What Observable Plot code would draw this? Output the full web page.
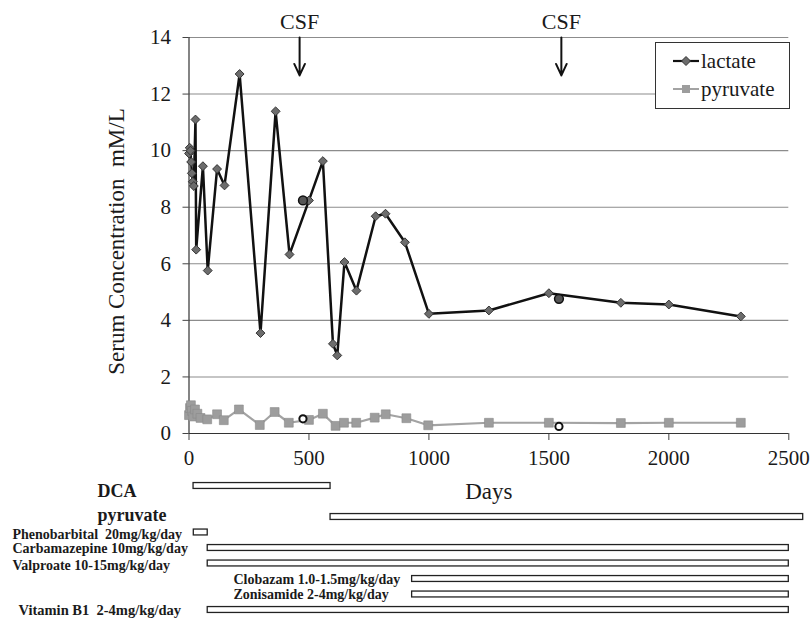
<!DOCTYPE html>
<html>
<head>
<meta charset="utf-8">
<script src="https://cdn.jsdelivr.net/npm/d3@7"></script>
<script src="https://cdn.jsdelivr.net/npm/@observablehq/plot@0.6"></script>
<style>
  html, body { margin: 0; padding: 0; background: #fff; }
  #wrap { position: relative; width: 810px; height: 618px; overflow: hidden; background: #fff; }
  #wrap svg { position: absolute; left: 0; top: 0; }
  #legend { position: absolute; left: 655px; top: 42px; width: 133px; height: 65px;
            border: 1px solid #333; background: #fff; font-family: "Liberation Serif", serif;
            font-size: 21px; color: #1a1a1a; }
  #legend .row { position: absolute; left: 16px; height: 24px; display: flex; align-items: center; }
  #legend .row svg { position: static; }
</style>
</head>
<body>
<div id="wrap"></div>
<script>
// ---------------- data ----------------
const lactateDay = [0, 3, 6, 9, 12, 16, 20, 27, 30, 58, 78, 117, 148, 211, 298, 361, 419, 500, 558, 600, 618, 648, 698, 778, 819, 900, 1000, 1250, 1500, 1800, 2000, 2300];
const lactateVal = [9.9, 10.1, 10.0, 9.6, 9.2, 8.9, 8.75, 11.1, 6.5, 9.45, 5.76, 9.35, 8.77, 12.71, 3.55, 11.39, 6.33, 8.24, 9.63, 3.17, 2.76, 6.06, 5.05, 7.68, 7.77, 6.76, 4.23, 4.35, 4.96, 4.62, 4.56, 4.14];

const pyruvateDay = [0, 4, 8, 12, 18, 25, 35, 48, 76, 117, 145, 208, 295, 357, 416, 500, 558, 611, 646, 697, 774, 820, 906, 997, 1250, 1500, 1800, 2000, 2300];
const pyruvateVal = [0.65, 0.9, 1.0, 0.8, 0.6, 0.85, 0.7, 0.55, 0.50, 0.68, 0.47, 0.85, 0.30, 0.76, 0.38, 0.48, 0.70, 0.27, 0.38, 0.38, 0.56, 0.68, 0.54, 0.29, 0.38, 0.38, 0.37, 0.38, 0.38];

const csfDay = [475, 1542];
const csfLactate = [8.24, 4.76];
const csfPyruvate = [0.52, 0.25];
const csfArrowDay = [461, 1552];
const csfLabel = "CSF";

const yTicks = [0, 2, 4, 6, 8, 10, 12, 14];
const xTicks = [0, 500, 1000, 1500, 2000, 2500];
const yLabel = "Serum Concentration  mM/L";
const xLabel = "Days";
const seriesNames = ["lactate", "pyruvate"];

const treatments = ["DCA", "pyruvate", "Phenobarbital  20mg/kg/day", "Carbamazepine 10mg/kg/day", "Valproate 10-15mg/kg/day", "Clobazam 1.0-1.5mg/kg/day", "Zonisamide 2-4mg/kg/day", "Vitamin B1  2-4mg/kg/day"];
const treatStart = [19, 590, 20, 78, 78, 930, 930, 78];
const treatEnd   = [590, 2560, 78, 2500, 2500, 2500, 2500, 2500];

// ---------------- layout / style (not data) ----------------
const serif = "'Liberation Serif', 'DejaVu Serif', serif";
const M = {left: 188.5, right: 21.7, top: 37, bottom: 185};
const rowLayout = {
  "DCA":                         {slot: 0, indent: 97,  dy: 5,  size: 18},
  "pyruvate":                    {slot: 2, indent: 97,  dy: -2, size: 18},
  "Phenobarbital  20mg/kg/day":  {slot: 3, indent: 12,  dy: 2,  size: 14},
  "Carbamazepine 10mg/kg/day":   {slot: 4, indent: 12,  dy: 1,  size: 14},
  "Valproate 10-15mg/kg/day":    {slot: 5, indent: 12,  dy: 2,  size: 14},
  "Clobazam 1.0-1.5mg/kg/day":   {slot: 6, indent: 233, dy: 1,  size: 14},
  "Zonisamide 2-4mg/kg/day":     {slot: 7, indent: 233, dy: 0,  size: 14},
  "Vitamin B1  2-4mg/kg/day":    {slot: 8, indent: 18,  dy: 0,  size: 14.5}
};
const slotRange = [485.5, 609.5];
const barHalf = 0.19;

// ---------------- tables built from the arrays ----------------
const lactate = lactateDay.map((d, i) => ({day: d, value: lactateVal[i]}));
const pyruvate = pyruvateDay.map((d, i) => ({day: d, value: pyruvateVal[i]}));
const csfL = csfDay.map((d, i) => ({day: d, value: csfLactate[i]}));
const csfP = csfDay.map((d, i) => ({day: d, value: csfPyruvate[i]}));
const treat = treatments.map((n, i) => ({name: n, start: treatStart[i], end: treatEnd[i], slot: rowLayout[n].slot}));

const wrap = document.getElementById("wrap");

// ---------------- main chart ----------------
const main = Plot.plot({
  width: 810, height: 618,
  marginLeft: M.left, marginRight: M.right, marginTop: M.top, marginBottom: M.bottom,
  style: {fontFamily: serif, fontSize: "21px", color: "#1a1a1a", background: "transparent", overflow: "visible"},
  x: {domain: [0, 2500]},
  y: {domain: [0, 14]},
  marks: [
    Plot.ruleY(yTicks.filter(d => d > 0), {stroke: "#8c8c8c", strokeWidth: 1.1}),
    Plot.axisY({ticks: yTicks, tickFormat: "d", tickSize: 6, tickPadding: 12, label: null, stroke: "#444", fontSize: 21}),
    Plot.axisX({ticks: xTicks, tickFormat: "d", tickSize: 7, tickPadding: 10, label: null, stroke: "#444", fontSize: 21}),
    Plot.ruleX([0], {stroke: "#333", strokeWidth: 1.2}),
    Plot.ruleY([0], {stroke: "#333", strokeWidth: 1.2}),
    // pyruvate
    Plot.line(pyruvate, {x: "day", y: "value", stroke: "#a3a3a3", strokeWidth: 2.2}),
    Plot.dot(pyruvate, {x: "day", y: "value", symbol: "square", r: 5, fill: "#9d9d9d", stroke: "#8a8a8a", strokeWidth: 0.6}),
    // lactate
    Plot.line(lactate, {x: "day", y: "value", stroke: "#111", strokeWidth: 2.5}),
    Plot.dot(lactate, {x: "day", y: "value", symbol: "diamond2", r: 4, fill: "#6c6c6c", stroke: "#333", strokeWidth: 1}),
    // CSF measurements
    Plot.dot(csfL, {x: "day", y: "value", r: 4.4, fill: "#555", stroke: "#111", strokeWidth: 1.5}),
    Plot.dot(csfP, {x: "day", y: "value", r: 3.6, fill: "white", stroke: "#111", strokeWidth: 2}),
    // CSF arrows
    Plot.arrow(csfArrowDay, {x1: d => d, x2: d => d, y1: 14, y2: 12.66, stroke: "#111", strokeWidth: 2, headLength: 10, headAngle: 50}),
    Plot.text(csfArrowDay, {x: d => d, y: 14, text: () => csfLabel, dy: -16, fontSize: 22, fill: "#1a1a1a"}),
    // axis titles
    Plot.text([yLabel], {text: d => d, frameAnchor: "left", textAnchor: "middle", lineAnchor: "middle", rotate: -90, dx: -72, dy: 6, fontSize: 23, fill: "#1a1a1a"}),
    Plot.text([xLabel], {text: d => d, frameAnchor: "bottom", textAnchor: "middle", lineAnchor: "middle", dy: 58, fontSize: 23, fill: "#1a1a1a"})
  ]
});
wrap.appendChild(main);

// ---------------- treatment bars ----------------
const labelMarks = treatments.map(n => {
  const s = rowLayout[n];
  return Plot.text(treat.filter(t => t.name === n), {
    y: "slot", text: "name", frameAnchor: "left", textAnchor: "start", lineAnchor: "middle",
    dx: s.indent - M.left, dy: s.dy, fontSize: s.size, fontWeight: "bold", fill: "#1a1a1a"
  });
});
const bars = Plot.plot({
  width: 810, height: 618,
  marginLeft: M.left, marginRight: M.right, marginTop: 0, marginBottom: 0,
  style: {fontFamily: serif, background: "transparent", overflow: "visible"},
  x: {domain: [0, 2500], axis: null},
  y: {type: "linear", domain: [0, 8], range: slotRange, axis: null},
  marks: [
    Plot.rect(treat, {x1: "start", x2: "end", y1: d => d.slot - barHalf, y2: d => d.slot + barHalf, fill: "white", stroke: "#222", strokeWidth: 1.3}),
    ...labelMarks
  ]
});
wrap.appendChild(bars);

// ---------------- legend ----------------
const legend = document.createElement("div");
legend.id = "legend";
const swatch = (name) => {
  if (name === "lactate") {
    return `<svg width="28" height="14"><line x1="1" y1="7" x2="27" y2="7" stroke="#111" stroke-width="2.2"/><path d="M14 2.5 L18.5 7 L14 11.5 L9.5 7 Z" fill="#6c6c6c" stroke="#333" stroke-width="1"/></svg>`;
  }
  return `<svg width="28" height="14"><line x1="1" y1="7" x2="27" y2="7" stroke="#a3a3a3" stroke-width="2"/><rect x="10" y="3" width="8" height="8" fill="#9d9d9d"/></svg>`;
};
legend.innerHTML = seriesNames.map((n, i) =>
  `<div class="row" style="top:${6 + i * 28}px">${swatch(n)}<span style="margin-left:1px">${n}</span></div>`
).join("");
wrap.appendChild(legend);
</script>
</body>
</html>
